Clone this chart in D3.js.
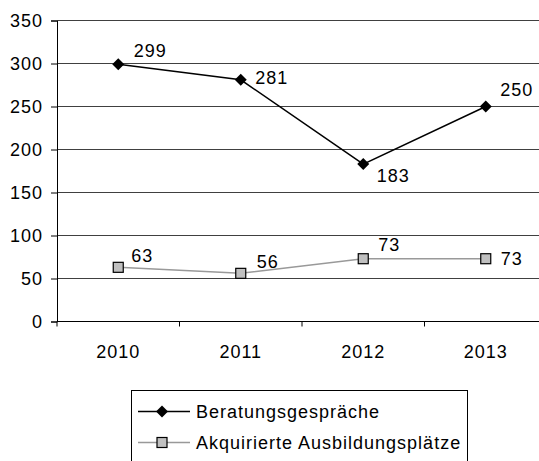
<!DOCTYPE html>
<html>
<head>
<meta charset="utf-8">
<script src="https://cdn.jsdelivr.net/npm/d3@7"></script>
<style>
	body { margin: 0; background: #fff; overflow: hidden; }
	svg { display: block; font-family: "Liberation Sans", Arial, sans-serif; letter-spacing: 1px; }
</style>
</head>
<body>
<div id="chart"></div>
<script>
/* chart data */
const years = ["2010", "2011", "2012", "2013"];
const beratung = [299, 281, 183, 250];
const ausbildung = [63, 56, 73, 73];
const seriesNames = ["Beratungsgespräche", "Akquirierte Ausbildungsplätze"];
const yTicks = [0, 50, 100, 150, 200, 250, 300, 350];

const width = 539, height = 461;
const fontSize = 18;

const svg = d3.select("#chart").append("svg")
	.attr("width", width)
	.attr("height", height);

/* plot area: right side runs past the picture edge, as in the original */
const x = d3.scaleBand().domain(years).range([57, 547]);
const y = d3.scaleLinear().domain([0, 350]).range([321.5, 20.5]);

/* gridlines */
svg.append("g")
	.selectAll("line")
	.data(yTicks.slice(1))
	.join("line")
	.attr("x1", 57).attr("x2", 547)
	.attr("y1", d => y(d)).attr("y2", d => y(d))
	.attr("stroke", "#404040")
	.attr("stroke-width", 1);

/* y axis */
const yAxis = svg.append("g")
	.attr("transform", "translate(57,0)")
	.call(d3.axisLeft(y).tickValues(yTicks).tickSize(6).tickPadding(8));
yAxis.select(".domain").attr("stroke", "#000");
yAxis.selectAll(".tick line").attr("stroke", "#000");
yAxis.selectAll("text")
	.attr("font-size", fontSize)
	.attr("font-family", null)
	.attr("fill", "#000");

/* x axis: ticks between categories */
const xAxis = svg.append("g")
	.attr("transform", `translate(0,${y(0)})`);
xAxis.append("line")
	.attr("x1", 57).attr("x2", 547)
	.attr("stroke", "#000");
xAxis.selectAll(".tk")
	.data(years)
	.join("line")
	.attr("class", "tk")
	.attr("x1", d => x(d)).attr("x2", d => x(d))
	.attr("y1", 0).attr("y2", 5)
	.attr("stroke", "#000");
xAxis.selectAll("text")
	.data(years)
	.join("text")
	.attr("x", d => x(d) + x.bandwidth() / 2)
	.attr("y", 36)
	.attr("text-anchor", "middle")
	.attr("font-size", fontSize)
	.text(d => d);

const cx = d => x(d) + x.bandwidth() / 2;
const line = d3.line()
	.x((d, i) => cx(years[i]))
	.y(d => y(d));

/* series 2: grey line, grey squares */
svg.append("path")
	.datum(ausbildung)
	.attr("d", line)
	.attr("fill", "none")
	.attr("stroke", "#999")
	.attr("stroke-width", 1.5);
svg.append("g")
	.selectAll("rect")
	.data(ausbildung)
	.join("rect")
	.attr("x", (d, i) => cx(years[i]) - 5)
	.attr("y", d => y(d) - 5)
	.attr("width", 10).attr("height", 10)
	.attr("fill", "#c0c0c0")
	.attr("stroke", "#000")
	.attr("stroke-width", 1.2);

/* series 1: black line, diamonds */
svg.append("path")
	.datum(beratung)
	.attr("d", line)
	.attr("fill", "none")
	.attr("stroke", "#000")
	.attr("stroke-width", 1.5);
const diamond = s => `M0,${-s}L${s},0L0,${s}L${-s},0Z`;
svg.append("g")
	.selectAll("path")
	.data(beratung)
	.join("path")
	.attr("transform", (d, i) => `translate(${cx(years[i])},${y(d)})`)
	.attr("d", diamond(6))
	.attr("fill", "#000");

/* data labels, placed like the original (offsets from each point) */
const labelOffsets1 = [[32, -14], [31, -2], [30, 12], [31, -17]];
const labelOffsets2 = [[24, -12], [27, -12], [26, -14], [26, 0]];
function labels(data, offs) {
	svg.append("g")
		.selectAll("text")
		.data(data)
		.join("text")
		.attr("x", (d, i) => cx(years[i]) + offs[i][0])
		.attr("y", (d, i) => y(d) + offs[i][1])
		.attr("dy", "0.35em")
		.attr("text-anchor", "middle")
		.attr("font-size", fontSize)
		.text(d => d);
}
labels(beratung, labelOffsets1);
labels(ausbildung, labelOffsets2);

/* legend */
const legend = svg.append("g");
legend.append("rect")
	.attr("x", 131.5).attr("y", 390.5)
	.attr("width", 336).attr("height", 80)
	.attr("fill", "#fff")
	.attr("stroke", "#000");
const legendRows = [
	{ name: seriesNames[0], color: "#000", marker: "diamond" },
	{ name: seriesNames[1], color: "#999", marker: "square" }
];
legendRows.forEach((r, i) => {
	const ly = 411.5 + i * 31;
	legend.append("line")
		.attr("x1", 138).attr("x2", 190)
		.attr("y1", ly).attr("y2", ly)
		.attr("stroke", r.color)
		.attr("stroke-width", 1.5);
	if (r.marker === "diamond") {
		legend.append("path")
			.attr("transform", `translate(162,${ly})`)
			.attr("d", diamond(6))
			.attr("fill", "#000");
	} else {
		legend.append("rect")
			.attr("x", 157).attr("y", ly - 5)
			.attr("width", 10).attr("height", 10)
			.attr("fill", "#c0c0c0")
			.attr("stroke", "#000")
			.attr("stroke-width", 1.2);
	}
	legend.append("text")
		.attr("x", 196)
		.attr("y", ly)
		.attr("dy", "0.35em")
		.attr("font-size", fontSize)
		.text(r.name);
});
</script>
</body>
</html>
